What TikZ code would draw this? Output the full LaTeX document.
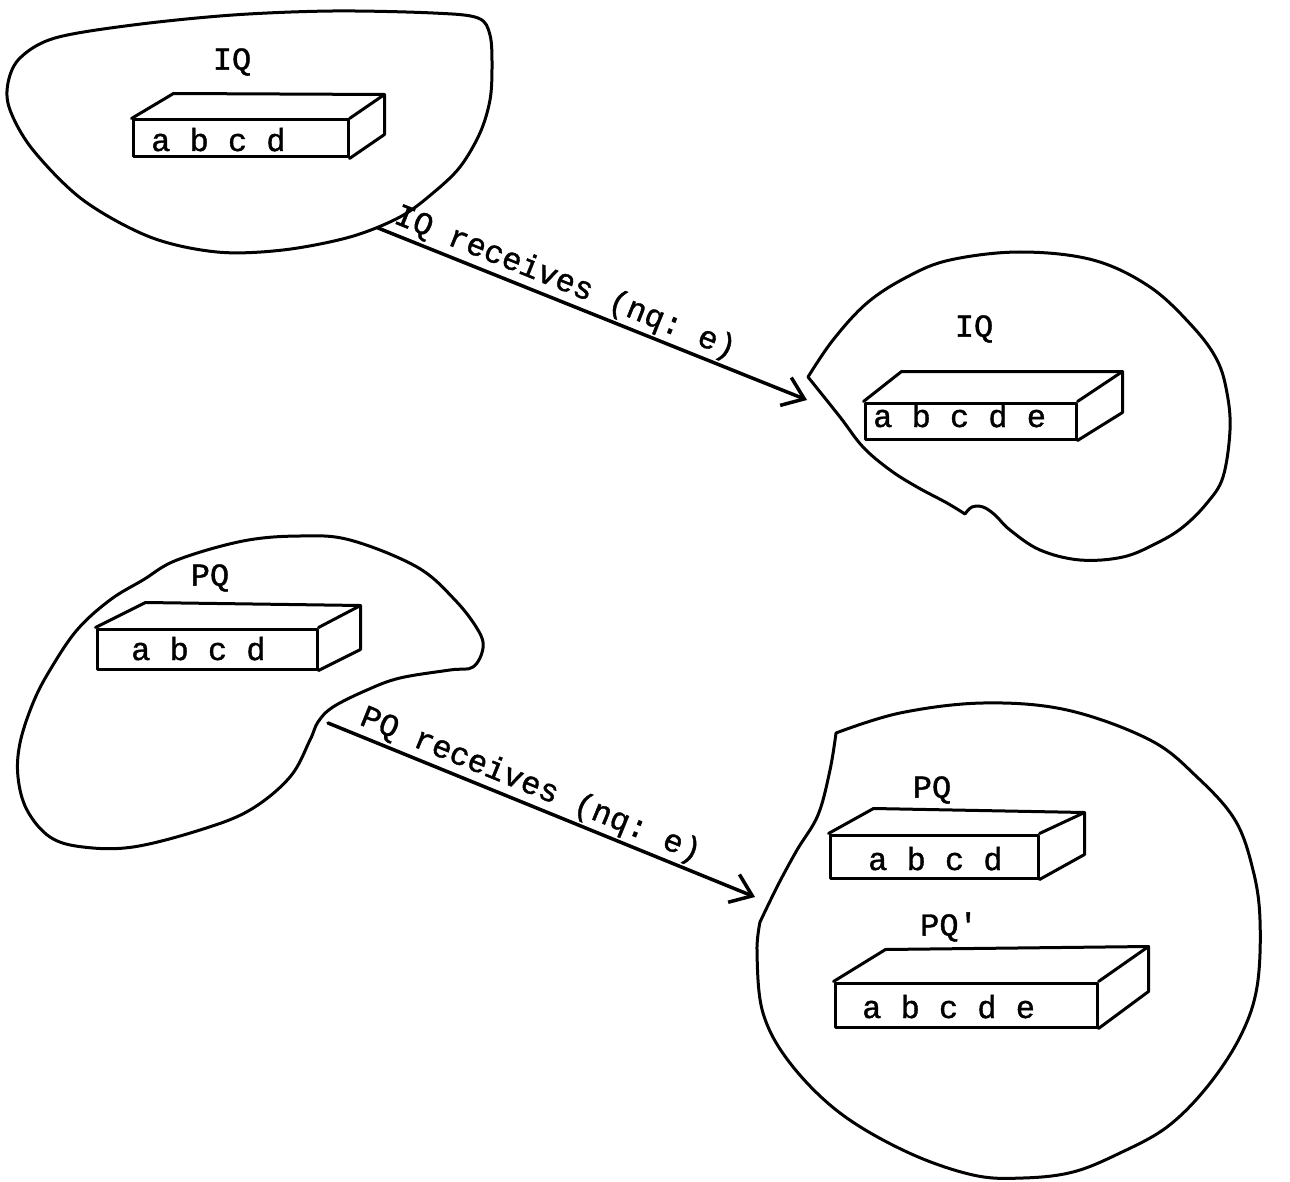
\documentclass[tikz,border=0pt]{standalone}
\usepackage{fontspec}
\setmonofont[FakeBold=1.2]{Liberation Mono}
\usetikzlibrary{arrows.meta,calc}
\tikzset{
  outline/.style={line width=3pt, line join=round, line cap=round},
  face/.style={draw, line width=3pt, inner sep=0pt, line join=round},
  edgeiii/.style={line width=3pt, line join=round, line cap=round},
  cell/.style={font=\ttfamily\fontsize{32}{38}\selectfont, inner sep=0pt, anchor=base west},
  qlabel/.style={font=\ttfamily\fontsize{32}{38}\selectfont, inner sep=0pt},
  flow/.style={line width=3.5pt, line cap=round, -{Straight Barb[length=20pt,width=30pt,line width=3.5pt]}},
}
\begin{document}
\begin{tikzpicture}[x=1pt,y=-1pt]
\useasboundingbox (0,0) rectangle (1290,1182);

% ---------- blob 1 (IQ, before) ----------
\draw[outline] plot[smooth cycle, tension=0.55] coordinates {(55,38) (133,25) (233,15) (333,11) (433,13) (478,18) (490,35) (492,67) (490,100) (480,133) (460,167) (433,193) (400,217) (350,237) (283,250) (217,252) (150,237) (83,200) (33,150) (10,110) (8,83) (20,58)};
\node[qlabel] (iqlab1) at (232,62) {IQ};
\node[face, minimum width=215pt, minimum height=37pt] (f1) at (240.5,138.5) {};
\draw[edgeiii] (f1.north west) -- ++(42,-25) -- ($(f1.north east)+(35,-24)$) -- ($(f1.south east)+(35,-24)$) -- (f1.south east);
\draw[edgeiii] (f1.north east) -- ++(35,-24);
\node[cell] (t1) at (151,151) {a b c d};

% ---------- blob 2 (IQ, after) ----------
\draw[outline] plot[smooth, tension=0.6] coordinates {(808,377) (833,340) (867,303) (907,277) (950,260) (1020,252) (1093,260) (1150,287) (1193,327) (1217,360) (1227,393) (1230,430) (1223,477) (1207,503) (1183,527) (1157,543) (1123,557) (1080,560) (1040,550) (1010,530) (995,515) (983,507) (972,507) (965,514)} -- plot[smooth, tension=0.6] coordinates {(965,514) (947,503) (917,487) (890,470) (863,447) (840,417) (808,377)};
\node[qlabel] (iqlab2) at (974,329) {IQ};
\node[face, minimum width=211pt, minimum height=36pt] (f2) at (970.5,421) {};
\draw[edgeiii] (f2.north west) -- ++(38,-30) -- ($(f2.north east)+(45,-30)$) -- ($(f2.south east)+(45,-28)$) -- (f2.south east);
\draw[edgeiii] (f2.north east) -- ++(45,-30);
\node[cell] (t2) at (873,427) {a b c d e};

% ---------- blob 3 (PQ, before) ----------
\draw[outline] plot[smooth cycle, tension=0.6] coordinates {(300,536) (350,540) (417,567) (455,600) (478,630) (483,648) (473,667) (450,670) (400,678) (367,690) (333,707) (318,722) (310,740) (290,777) (250,810) (200,830) (133,847) (83,847) (50,837) (27,810) (18,777) (20,743) (33,703) (50,670) (77,630) (110,600) (143,580) (177,560) (243,541)};
\node[qlabel] (pqlab1) at (210,578) {PQ};
\node[face, minimum width=220pt, minimum height=40pt] (f3) at (207,649) {};
\draw[edgeiii] (f3.north west) -- ++(50,-25) -- ($(f3.north east)+(42,-22)$) -- ($(f3.south east)+(42,-21)$) -- (f3.south east);
\draw[edgeiii] (f3.north east) -- ++(42,-22);
\node[cell] (t3) at (131,660) {a b c d};

% ---------- blob 4 (PQ and PQ', after) ----------
\draw[outline] plot[smooth, tension=0.6] coordinates {(836,733) (900,713) (983,703) (1067,710) (1150,740) (1197,777) (1235,820) (1253,870) (1260,920) (1257,987) (1240,1037) (1207,1087) (1167,1127) (1120,1153) (1073,1172) (1023,1178) (973,1175) (907,1152) (840,1113) (790,1063) (763,1013) (757,953) (760,922)} -- plot[smooth, tension=0.6] coordinates {(760,922) (778,885) (797,850) (818,815) (830,770) (836,733)};
\node[qlabel] (pqlab2) at (932,790) {PQ};
\node[face, minimum width=208pt, minimum height=43pt] (f4) at (934,856.5) {};
\draw[edgeiii] (f4.north west) -- ++(45,-25) -- ($(f4.north east)+(45,-21)$) -- ($(f4.south east)+(45,-25)$) -- (f4.south east);
\draw[edgeiii] (f4.north east) -- ++(45,-21);
\node[cell] (t4) at (868,870) {a b c d};

\node[qlabel] (pqlab3) at (949,927) {PQ'};
\node[face, minimum width=262pt, minimum height=44pt] (f5) at (966,1005) {};
\draw[edgeiii] (f5.north west) -- ++(52,-32) -- ($(f5.north east)+(50,-35)$) -- ($(f5.south east)+(50,-37)$) -- (f5.south east);
\draw[edgeiii] (f5.north east) -- ++(50,-35);
\node[cell] (t5) at (862,1018) {a b c d e};

% ---------- connectors ----------
\coordinate (iqsrc) at (378,228);
\coordinate (iqdst) at (807,400);
\draw[flow] (iqsrc) -- node[qlabel, sloped, above, pos=0.42, inner sep=2pt] (iqmsg) {IQ receives (nq: e)} (iqdst);

\coordinate (pqsrc) at (328,723);
\coordinate (pqdst) at (755,897);
\draw[flow] (pqsrc) -- node[qlabel, sloped, above, pos=0.458, inner sep=2pt] (pqmsg) {PQ receives (nq: e)} (pqdst);
\end{tikzpicture}
\end{document}
